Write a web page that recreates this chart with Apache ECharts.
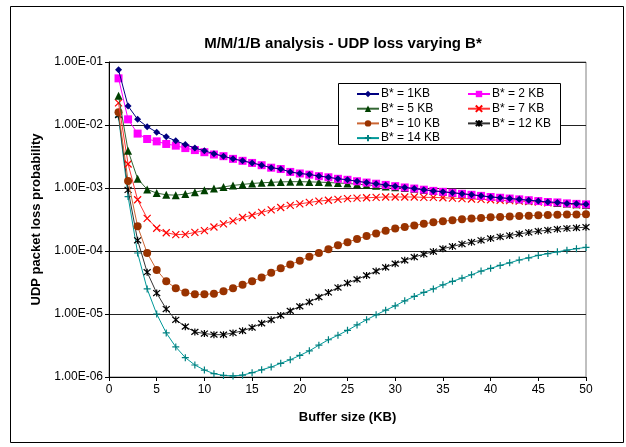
<!DOCTYPE html>
<html>
<head>
<meta charset="utf-8">
<script src="https://cdn.jsdelivr.net/npm/echarts@6/dist/echarts.min.js"></script>
<style>
  html, body { margin: 0; padding: 0; background: #fff; }
  #chart { width: 626px; height: 447px; }
</style>
</head>
<body>
<div id="chart"></div>
<script>
// buffer sizes (KB)
var bufferSize = [];
for (var i = 1; i <= 50; i++) bufferSize.push(i);

var seriesNames = ['B* = 1KB', 'B* = 2 KB', 'B* = 5 KB', 'B* = 7 KB', 'B* = 10 KB', 'B* = 12 KB', 'B* = 14 KB'];

var loss1 = [0.075, 0.020, 0.0123, 0.0094, 0.0077, 0.0065, 0.0056, 0.0049, 0.0043, 0.0039,
  0.0035, 0.0032, 0.0029, 0.0027, 0.0025, 0.0023, 0.0021, 0.0020, 0.0018, 0.0017,
  0.00164, 0.00155, 0.00148, 0.0014, 0.00135, 0.00128, 0.00122, 0.00117, 0.00112, 0.00107,
  0.00102, 0.00098, 0.00094, 0.0009, 0.00087, 0.00084, 0.00081, 0.00078, 0.00075, 0.00072,
  0.0007, 0.00068, 0.00066, 0.00064, 0.00062, 0.0006, 0.00059, 0.00057, 0.00056, 0.00055];
var loss2 = [0.055, 0.0123, 0.0073, 0.0060, 0.0055, 0.0050, 0.0047, 0.0043, 0.0040, 0.0037,
  0.0034, 0.0032, 0.0029, 0.0027, 0.0025, 0.0023, 0.0021, 0.0020, 0.0018, 0.0017,
  0.00163, 0.00154, 0.00148, 0.0014, 0.00135, 0.00128, 0.00122, 0.00117, 0.00112, 0.00107,
  0.00102, 0.00098, 0.00094, 0.0009, 0.00087, 0.00084, 0.00081, 0.00078, 0.00075, 0.00072,
  0.0007, 0.00068, 0.00066, 0.00064, 0.00062, 0.0006, 0.00059, 0.00057, 0.00056, 0.00055];
var loss5 = [0.029, 0.0039, 0.0014, 0.00095, 0.00083, 0.00078, 0.00077, 0.0008, 0.00086, 0.00092,
  0.00098, 0.00104, 0.0011, 0.00114, 0.00118, 0.00121, 0.00123, 0.00125, 0.00126, 0.00126,
  0.00125, 0.00124, 0.00122, 0.0012, 0.00118, 0.00115, 0.00112, 0.00109, 0.00106, 0.00103,
  0.001, 0.00097, 0.00093, 0.0009, 0.00087, 0.00084, 0.00081, 0.00078, 0.00075, 0.00072,
  0.0007, 0.00068, 0.00066, 0.00064, 0.00062, 0.0006, 0.00058, 0.00057, 0.00055, 0.00054];
var loss7 = [0.0224, 0.0024, 0.00065, 0.00033, 0.00023, 0.000195, 0.000182, 0.000184, 0.000197, 0.00021,
  0.00024, 0.00027, 0.0003, 0.00034, 0.00037, 0.00041, 0.00045, 0.00049, 0.00053, 0.00056,
  0.00059, 0.00062, 0.00064, 0.00066, 0.00068, 0.00069, 0.0007, 0.00071, 0.00072, 0.00072,
  0.00072, 0.00072, 0.00071, 0.00071, 0.0007, 0.00069, 0.00068, 0.00067, 0.00066, 0.00065,
  0.00064, 0.00063, 0.00062, 0.00061, 0.0006, 0.00058, 0.00057, 0.00056, 0.00054, 0.00053];
var loss10 = [0.016, 0.00129, 0.000246, 9.3e-5, 5.0e-5, 3.3e-5, 2.57e-5, 2.2e-5, 2.05e-5, 2.05e-5,
  2.1e-5, 2.3e-5, 2.57e-5, 2.9e-5, 3.3e-5, 3.8e-5, 4.5e-5, 5.3e-5, 6.1e-5, 7.0e-5,
  8.1e-5, 9.3e-5, 1.07e-4, 1.23e-4, 1.38e-4, 1.55e-4, 1.73e-4, 1.9e-4, 2.1e-4, 2.28e-4,
  2.4e-4, 2.55e-4, 2.7e-4, 2.85e-4, 2.97e-4, 3.08e-4, 3.18e-4, 3.27e-4, 3.35e-4, 3.42e-4,
  3.48e-4, 3.54e-4, 3.59e-4, 3.64e-4, 3.68e-4, 3.72e-4, 3.75e-4, 3.78e-4, 3.81e-4, 3.83e-4];
var loss12 = [0.0144, 9.3e-4, 1.48e-4, 4.6e-5, 2.15e-5, 1.2e-5, 8.1e-6, 6.3e-6, 5.2e-6, 4.9e-6,
  4.7e-6, 4.7e-6, 5.0e-6, 5.4e-6, 6.1e-6, 7.1e-6, 8.1e-6, 9.5e-6, 1.12e-5, 1.32e-5,
  1.55e-5, 1.85e-5, 2.2e-5, 2.63e-5, 3.1e-5, 3.55e-5, 4.1e-5, 4.8e-5, 5.5e-5, 6.3e-5,
  7.1e-5, 8.0e-5, 8.9e-5, 9.8e-5, 1.09e-4, 1.18e-4, 1.29e-4, 1.38e-4, 1.48e-4, 1.58e-4,
  1.68e-4, 1.76e-4, 1.87e-4, 1.97e-4, 2.06e-4, 2.14e-4, 2.22e-4, 2.28e-4, 2.33e-4, 2.39e-4];
var loss14 = [0.0135, 7.3e-4, 9.3e-5, 2.5e-5, 1.0e-5, 5.0e-6, 3.0e-6, 2.03e-6, 1.55e-6, 1.29e-6,
  1.13e-6, 1.06e-6, 1.04e-6, 1.07e-6, 1.17e-6, 1.3e-6, 1.44e-6, 1.65e-6, 1.88e-6, 2.2e-6,
  2.6e-6, 3.2e-6, 3.9e-6, 4.6e-6, 5.5e-6, 6.7e-6, 8.1e-6, 9.7e-6, 1.15e-5, 1.35e-5,
  1.62e-5, 1.9e-5, 2.2e-5, 2.5e-5, 2.9e-5, 3.3e-5, 3.7e-5, 4.2e-5, 4.8e-5, 5.3e-5,
  5.9e-5, 6.5e-5, 7.2e-5, 7.8e-5, 8.5e-5, 9.1e-5, 9.7e-5, 1.03e-4, 1.09e-4, 1.14e-4];

var allLoss = [loss1, loss2, loss5, loss7, loss10, loss12, loss14];
var colors = ['#000080', '#FF00FF', '#004000', '#FF0000', '#993300', '#000000', '#008080'];
var lineColors = ['#000080', '#FF00FF', '#336633', '#FF3333', '#CC6633', '#333333', '#009999'];
var symbols = [
  'diamond', 'rect', 'triangle',
  'path://M0,0L10,10M10,0L0,10',
  'circle',
  'path://M0,0L10,10M10,0L0,10M5,-1L5,11',
  'path://M5,0L5,10M0,5L10,5'
];
var symbolSizes = [7, 8, 8, 7, 8, 7, 7];

function sci(v) {
  var e = Math.round(Math.log10(v));
  var a = Math.abs(e);
  return '1.00E' + (e < 0 ? '-' : '+') + (a < 10 ? '0' : '') + a;
}

var font = '"Liberation Sans", Arial, sans-serif';

var series = seriesNames.map(function (name, k) {
  var stroke = symbols[k].indexOf('path://') === 0;
  return {
    name: name,
    type: 'line',
    data: bufferSize.map(function (x, i) { return [x, allLoss[k][i]]; }),
    symbol: symbols[k],
    symbolSize: symbolSizes[k],
    showSymbol: true,
    lineStyle: { color: lineColors[k], width: 1 },
    itemStyle: stroke
      ? { color: colors[k], borderColor: colors[k], borderWidth: 1.2 }
      : { color: colors[k], borderWidth: 0 },
    animation: false,
    z: 10 - k
  };
});

var chart = echarts.init(document.getElementById('chart'));
chart.setOption({
  backgroundColor: '#fff',
  animation: false,
  title: {
    text: 'M/M/1/B analysis - UDP loss varying B*',
    left: 338,
    top: 31,
    textAlign: 'center',
    textStyle: { fontFamily: font, fontSize: 15, fontWeight: 'bold', color: '#000' }
  },
  grid: {
    left: 109, right: 40, top: 62, bottom: 70,
    show: true, borderColor: '#808080', borderWidth: 1, backgroundColor: '#fff'
  },
  graphic: [
    { type: 'rect', shape: { x: 10.5, y: 6.5, width: 613, height: 436 },
      style: { fill: 'none', stroke: '#000', lineWidth: 1 }, z: 100 },
    { type: 'rect', shape: { x: 338.5, y: 83.5, width: 222, height: 61 },
      style: { fill: '#fff', stroke: '#000', lineWidth: 1 }, z: 50 }
  ],
  legend: [
    {
      data: [seriesNames[0], seriesNames[2], seriesNames[4], seriesNames[6]],
      orient: 'vertical', left: 351, top: 83, itemGap: 2.7,
      itemWidth: 22, itemHeight: 8,
      textStyle: { fontFamily: font, fontSize: 12, color: '#000', padding: [0, 0, 0, -3] },
      z: 60
    },
    {
      data: [seriesNames[1], seriesNames[3], seriesNames[5]],
      orient: 'vertical', left: 462, top: 83, itemGap: 2.7,
      itemWidth: 22, itemHeight: 8,
      textStyle: { fontFamily: font, fontSize: 12, color: '#000', padding: [0, 0, 0, -3] },
      z: 60
    }
  ],
  xAxis: {
    type: 'value', min: 0, max: 50, interval: 5,
    name: 'Buffer size (KB)', nameLocation: 'middle', nameGap: 34,
    nameTextStyle: { fontFamily: font, fontSize: 13, fontWeight: 'bold', color: '#000' },
    axisLine: { lineStyle: { color: '#000', width: 1 } },
    axisTick: { show: true, length: 4, lineStyle: { color: '#000' } },
    axisLabel: { fontFamily: font, fontSize: 12, color: '#000', margin: 7 },
    splitLine: { show: false }
  },
  yAxis: {
    type: 'log', logBase: 10, min: 1e-6, max: 1e-1,
    name: 'UDP packet loss probability', nameLocation: 'middle', nameGap: 66,
    nameTextStyle: { fontFamily: font, fontSize: 13, fontWeight: 'bold', color: '#000' },
    axisLine: { show: true, lineStyle: { color: '#000', width: 1 } },
    axisTick: { show: true, length: 4, lineStyle: { color: '#000' } },
    axisLabel: { fontFamily: font, fontSize: 12, color: '#000', margin: 6, formatter: sci },
    splitLine: { show: true, lineStyle: { color: '#222', width: 1 } }
  },
  series: series
});
</script>
</body>
</html>
